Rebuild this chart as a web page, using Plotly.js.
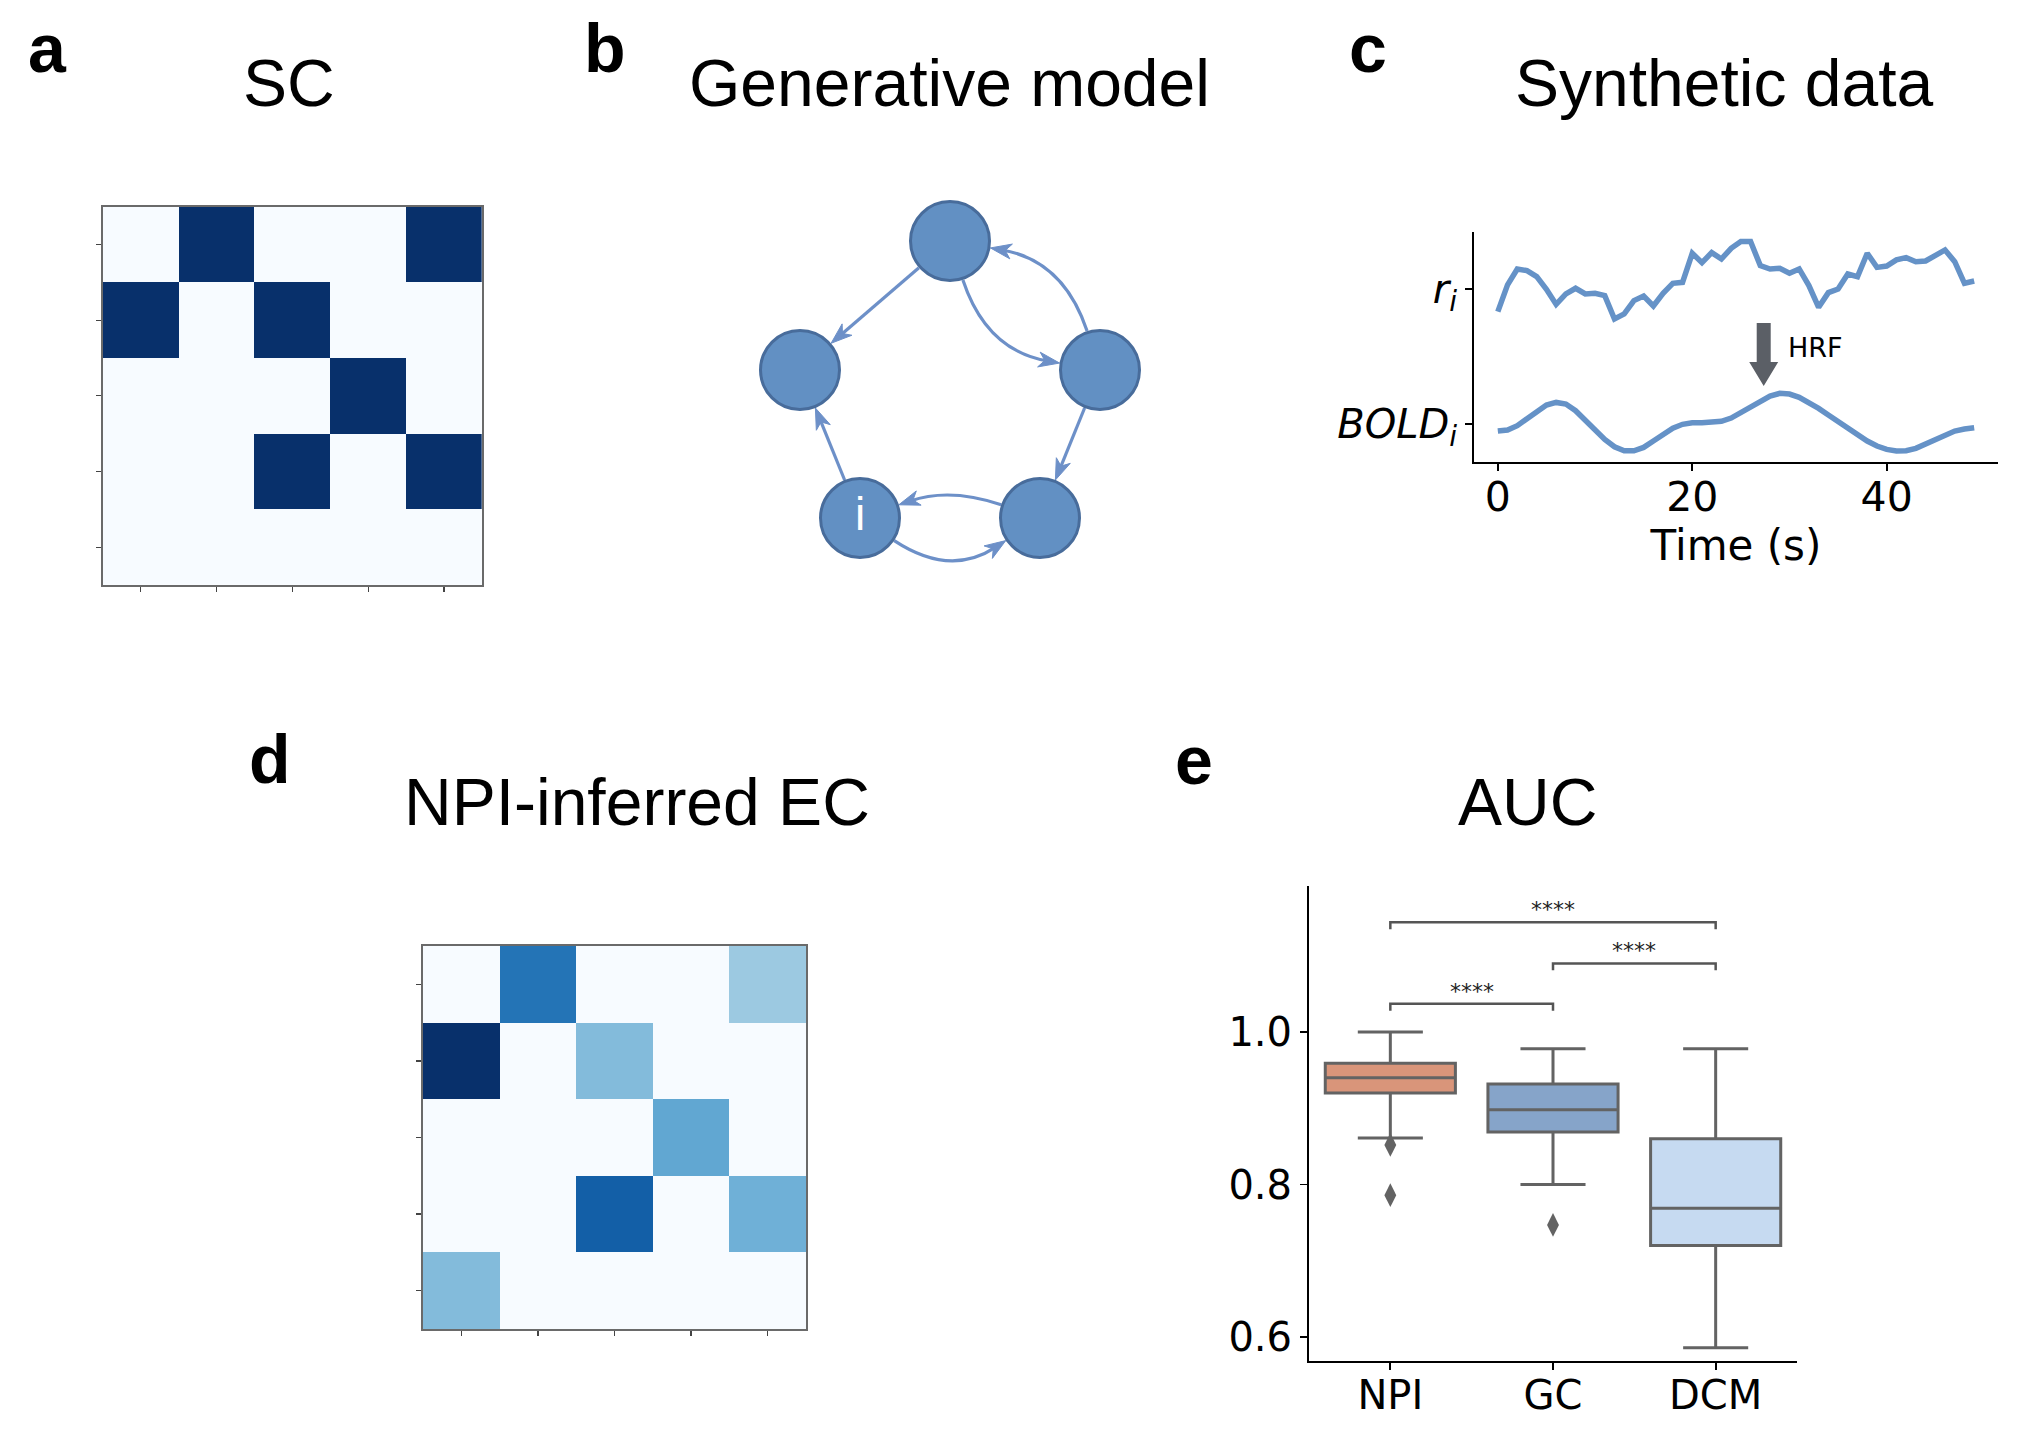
<!DOCTYPE html>
<html><head><meta charset="utf-8">
<script src="https://cdn.plot.ly/plotly-3.0.1.min.js"></script>
<style>html,body{margin:0;padding:0;background:#fff}</style>
</head><body><div id="chart" style="width:2035px;height:1450px"></div>
<script>
// ================= DATA =================
// Panel a: structural connectivity (binary)
const scMatrix = [
  [0, 1, 0, 0, 1],
  [1, 0, 1, 0, 0],
  [0, 0, 0, 1, 0],
  [0, 0, 1, 0, 1],
  [0, 0, 0, 0, 0]
];
// Panel d: NPI-inferred effective connectivity (normalised)
const ecMatrix = [
  [0,    0.74, 0,    0,    0.38],
  [1.00, 0,    0.44, 0,    0   ],
  [0,    0,    0,    0.53, 0   ],
  [0,    0,    0.82, 0,    0.49],
  [0.44, 0,    0,    0,    0   ]
];
const matrixIndex = [0, 1, 2, 3, 4];

// Panel b: generative model graph
const nodeX = [0, -1.5, 1.5, -0.9, 0.9];
const nodeY = [2.77, 1.48, 1.48, 0, 0];
const nodeLabels = ['', '', '', 'i', ''];
const edgeFrom = [0, 0, 2, 2, 4, 3, 3];
const edgeTo   = [1, 2, 0, 4, 3, 4, 1];
const edgeBend = [0, 0.3, 0.3, 0, 0.17, 0.33, 0];

// Panel c: synthetic data
const timeSec = [0,1,2,3,4,5,6,7,8,9,10,11,12,13,14,15,16,17,18,19,20,21,22,23,24,
  25,26,27,28,29,30,31,32,33,34,35,36,37,38,39,40,41,42,43,44,45,46,47,48,49];
const rSignal = [0.832,1.030,1.148,1.136,1.091,0.998,0.886,0.963,1.005,0.963,
  0.968,0.951,0.778,0.815,0.914,0.948,0.874,0.968,1.042,1.049,
  1.264,1.195,1.269,1.222,1.301,1.351,1.351,1.173,1.148,1.153,
  1.116,1.148,1.025,0.864,0.973,1.000,1.111,1.091,1.264,1.160,
  1.170,1.215,1.232,1.202,1.207,1.252,1.289,1.202,1.042,1.059];
const boldSignal = [-0.052,-0.044,-0.012,0.042,0.096,0.141,0.160,0.148,0.099,0.030,
  -0.044,-0.114,-0.168,-0.198,-0.198,-0.173,-0.126,-0.074,-0.030,-0.002,
  0.010,0.010,0.010,0.020,0.044,0.084,0.128,0.173,0.207,0.227,
  0.222,0.198,0.160,0.116,0.067,0.017,-0.032,-0.081,-0.126,-0.163,
  -0.188,-0.200,-0.198,-0.180,-0.148,-0.111,-0.077,-0.052,-0.037,-0.027];
const signalTickVals = [0, 1];
const signalTickText = ['<i>BOLD</i><sub><i>i</i></sub>', '<i>r</i><sub><i>i</i></sub>'];
const timeTicks = [0, 20, 40];

// Panel e: AUC box plots
const methods = ['NPI', 'GC', 'DCM'];
const aucLowerFence = [0.861, 0.800, 0.586];
const aucQ1         = [0.920, 0.869, 0.720];
const aucMedian     = [0.940, 0.898, 0.769];
const aucQ3         = [0.959, 0.932, 0.860];
const aucUpperFence = [1.000, 0.978, 0.978];
const outlierMethod = ['NPI', 'NPI', 'GC'];
const outlierAUC    = [0.852, 0.786, 0.747];
const compA = [0, 1, 0];
const compB = [1, 2, 2];
const compHeight = [1.037, 1.090, 1.144];
const compLabel = ['****', '****', '****'];
const aucTicks = [0.6, 0.8, 1.0];
const aucTickText = ['0.6', '0.8', '1.0'];

// ================= LAYOUT HELPERS =================
const W = 2035, H = 1450;
const dx = (a, b) => [a / W, b / W];
const dy = (top, bottom) => [1 - bottom / H, 1 - top / H];
const px = x => x / W;
const py = y => 1 - y / H;

const blues = [[0,'#f7fbff'],[0.125,'#deebf7'],[0.25,'#c6dbef'],[0.375,'#9ecae1'],
  [0.5,'#6baed6'],[0.625,'#4292c6'],[0.75,'#2171b5'],[0.875,'#08519c'],[1,'#08306b']];

const TITLE_FONT = 'Liberation Sans, Arial, Helvetica, sans-serif';
const AX_FONT = 'DejaVu Sans, Verdana, sans-serif';
const EDGE_COLOR = '#6d90c8';
const NODE_FILL = '#6290c3';
const NODE_LINE = '#486c9b';
const SIG_COLOR = '#6592c7';
const BOX_LINE = '#636363';

const traces = [];
const shapes = [];
const annotations = [];

// ---- Panel a & d heatmaps ----
function heat(z, xa, ya) {
  traces.push({type: 'heatmap', z: z, x: matrixIndex, y: matrixIndex,
    colorscale: blues, zmin: 0, zmax: 1, showscale: false, hoverinfo: 'skip',
    xaxis: xa, yaxis: ya});
}
heat(scMatrix, 'x', 'y');
heat(ecMatrix, 'x4', 'y4');

function heatAxis(domain) {
  return {domain: domain, range: [-0.5, 4.5], tickvals: matrixIndex, showticklabels: false,
    ticks: 'outside', ticklen: 5, tickwidth: 1.2, tickcolor: '#444',
    showline: true, mirror: true, linecolor: '#6a6a6a', linewidth: 1.6,
    showgrid: false, zeroline: false, fixedrange: true};
}

// ---- Panel b graph ----
const R = 0.41;
function unit(vx, vy) { const l = Math.hypot(vx, vy); return [vx / l, vy / l]; }
for (let k = 0; k < edgeFrom.length; k++) {
  const a = edgeFrom[k], b = edgeTo[k];
  const ax = nodeX[a], ay = nodeY[a], bx = nodeX[b], by = nodeY[b];
  const ddx = bx - ax, ddy = by - ay;
  const cx = (ax + bx) / 2 + edgeBend[k] * ddy;
  const cy = (ay + by) / 2 - edgeBend[k] * ddx;
  const [u0x, u0y] = unit(cx - ax, cy - ay);
  const [u1x, u1y] = unit(cx - bx, cy - by);
  const sx = ax + R * u0x, sy = ay + R * u0y;
  const ex = bx + R * u1x, ey = by + R * u1y;
  const tx = -u1x, ty = -u1y;
  const L = 0.21, Wd = 0.075, notch = 0.15;
  const backX = ex - L * tx, backY = ey - L * ty;
  const nx = -ty, ny = tx;
  const lex = ex - 0.12 * tx, ley = ey - 0.12 * ty;
  const path = edgeBend[k] === 0
    ? `M${sx},${sy} L${lex},${ley}`
    : `M${sx},${sy} Q${cx},${cy} ${lex},${ley}`;
  shapes.push({type: 'path', xref: 'x2', yref: 'y2', layer: 'below', path: path,
    line: {color: EDGE_COLOR, width: 3.2}, fillcolor: 'rgba(0,0,0,0)'});
  shapes.push({type: 'path', xref: 'x2', yref: 'y2', layer: 'below',
    path: `M${ex},${ey} L${backX + Wd * nx},${backY + Wd * ny} L${ex - notch * tx},${ey - notch * ty} L${backX - Wd * nx},${backY - Wd * ny} Z`,
    line: {color: EDGE_COLOR, width: 1}, fillcolor: EDGE_COLOR});
}
traces.push({type: 'scatter', mode: 'markers', x: nodeX, y: nodeY,
  marker: {size: 79, color: NODE_FILL, line: {color: NODE_LINE, width: 3}},
  hoverinfo: 'skip', showlegend: false, xaxis: 'x2', yaxis: 'y2', cliponaxis: false});
const labelled = nodeLabels.map((t, i) => i).filter(i => nodeLabels[i] !== '');
traces.push({type: 'scatter', mode: 'text',
  x: labelled.map(i => nodeX[i]), y: labelled.map(i => nodeY[i]), text: labelled.map(i => nodeLabels[i]),
  textposition: 'middle center', textfont: {family: TITLE_FONT, size: 46, color: '#ffffff'},
  hoverinfo: 'skip', showlegend: false, xaxis: 'x2', yaxis: 'y2', cliponaxis: false});

// ---- Panel c synthetic data ----
traces.push({type: 'scatter', mode: 'lines', x: timeSec, y: rSignal,
  line: {color: SIG_COLOR, width: 5.5}, xaxis: 'x3', yaxis: 'y3', hoverinfo: 'skip', showlegend: false});
traces.push({type: 'scatter', mode: 'lines', x: timeSec, y: boldSignal,
  line: {color: SIG_COLOR, width: 5.5}, xaxis: 'x3', yaxis: 'y3', hoverinfo: 'skip', showlegend: false});
// HRF block arrow
(function () {
  const c = 27.35, sw = 0.72, hw = 1.49, top = 0.748, hs = 0.459, tip = 0.281;
  shapes.push({type: 'path', xref: 'x3', yref: 'y3',
    path: `M${c - sw},${top} L${c + sw},${top} L${c + sw},${hs} L${c + hw},${hs} L${c},${tip} L${c - hw},${hs} L${c - sw},${hs} Z`,
    fillcolor: '#5b5f66', line: {width: 0}});
  annotations.push({xref: 'x3', yref: 'y3', x: 29.6, y: 0.565, text: 'HRF', showarrow: false,
    xanchor: 'left', yanchor: 'middle', font: {family: AX_FONT, size: 27, color: '#000'}});
})();

// ---- Panel e box plots ----
const boxFill = ['#d9957a', '#86a4c9', '#c6daf1'];
methods.forEach((m, i) => {
  traces.push({type: 'box', x: [m], q1: [aucQ1[i]], median: [aucMedian[i]], q3: [aucQ3[i]],
    lowerfence: [aucLowerFence[i]], upperfence: [aucUpperFence[i]],
    fillcolor: boxFill[i], line: {color: BOX_LINE, width: 3}, whiskerwidth: 0.5, width: 0.8,
    boxpoints: false, xaxis: 'x5', yaxis: 'y5', hoverinfo: 'skip', showlegend: false});
});
traces.push({type: 'scatter', mode: 'markers', x: outlierMethod, y: outlierAUC,
  marker: {symbol: 'diamond-tall', size: 17, color: BOX_LINE},
  xaxis: 'x5', yaxis: 'y5', hoverinfo: 'skip', showlegend: false});
for (let k = 0; k < compA.length; k++) {
  const h = compHeight[k], t = 0.009;
  traces.push({type: 'scatter', mode: 'lines',
    x: [methods[compA[k]], methods[compA[k]], methods[compB[k]], methods[compB[k]]],
    y: [h - t, h, h, h - t], line: {color: '#555', width: 2.5},
    xaxis: 'x5', yaxis: 'y5', hoverinfo: 'skip', showlegend: false});
  annotations.push({xref: 'x5', yref: 'y5', x: (compA[k] + compB[k]) / 2, y: h, text: compLabel[k],
    showarrow: false, yanchor: 'bottom', yshift: -2,
    font: {family: AX_FONT, size: 22, color: '#222'}});
}

// ---- Titles and panel letters ----
function title(text, cx, cy) {
  annotations.push({xref: 'paper', yref: 'paper', x: px(cx), y: py(cy), text: text,
    showarrow: false, xanchor: 'center', yanchor: 'middle',
    font: {family: TITLE_FONT, size: 66, color: '#000'}});
}
function letter(text, lx, cy) {
  annotations.push({xref: 'paper', yref: 'paper', x: px(lx), y: py(cy), text: '<b>' + text + '</b>',
    showarrow: false, xanchor: 'left', yanchor: 'middle',
    font: {family: TITLE_FONT, size: 68, color: '#000'}});
}
title('SC', 289, 83);
title('Generative model', 949, 83);
title('Synthetic data', 1724, 83);
title('NPI-inferred EC', 637, 802);
title('AUC', 1527, 802);
letter('a', 26, 48);
letter('b', 582, 48);
letter('c', 1347, 48);
letter('d', 247, 759);
letter('e', 1173, 760);

const plainAxis = {showgrid: false, zeroline: false, fixedrange: true};

const layout = {
  width: W, height: H, margin: {l: 0, r: 0, t: 0, b: 0},
  paper_bgcolor: '#fff', plot_bgcolor: '#fff', showlegend: false, boxmode: 'overlay',
  xaxis: Object.assign(heatAxis(dx(102.7, 482)), {anchor: 'y'}),
  yaxis: Object.assign(heatAxis(dy(206.7, 585)), {range: [4.5, -0.5], anchor: 'x'}),
  xaxis4: Object.assign(heatAxis(dx(423, 806)), {anchor: 'y4'}),
  yaxis4: Object.assign(heatAxis(dy(946, 1329)), {range: [4.5, -0.5], anchor: 'x4'}),
  xaxis2: Object.assign({}, plainAxis, {domain: dx(700, 1200), range: [-2.5, 2.5], visible: false, anchor: 'y2'}),
  yaxis2: Object.assign({}, plainAxis, {domain: dy(180, 580), range: [-0.62, 3.38], visible: false, anchor: 'x2'}),
  xaxis3: Object.assign({}, plainAxis, {domain: dx(1474, 1998), range: [-2.45, 51.45], anchor: 'y3',
    tickvals: timeTicks, ticks: 'outside', ticklen: 7, tickwidth: 1.8, tickcolor: '#000',
    showline: true, linecolor: '#000', linewidth: 2, ticklabelstandoff: -9,
    tickfont: {family: AX_FONT, size: 41, color: '#000'},
    title: {text: 'Time (s)', font: {family: AX_FONT, size: 42, color: '#000'}, standoff: 8}}),
  yaxis3: Object.assign({}, plainAxis, {domain: dy(231.7, 462), range: [-0.281, 1.424], anchor: 'x3',
    tickvals: signalTickVals, ticktext: signalTickText, ticks: 'outside', ticklen: 7, tickwidth: 1.8,
    tickcolor: '#000', showline: true, linecolor: '#000', linewidth: 2,
    tickfont: {family: AX_FONT, size: 40, color: '#000'}}),
  xaxis5: Object.assign({}, plainAxis, {domain: dx(1309, 1797), range: [-0.5, 2.5], anchor: 'y5',
    type: 'category', categoryorder: 'array', categoryarray: methods,
    ticks: 'outside', ticklen: 7, tickwidth: 1.8, tickcolor: '#000', ticklabelstandoff: -9,
    showline: true, linecolor: '#000', linewidth: 2,
    tickfont: {family: AX_FONT, size: 40, color: '#000'}}),
  yaxis5: Object.assign({}, plainAxis, {domain: dy(886, 1361), range: [0.5685, 1.1916], anchor: 'x5',
    tickvals: aucTicks, ticktext: aucTickText, ticks: 'outside', ticklen: 7, tickwidth: 1.8,
    tickcolor: '#000', showline: true, linecolor: '#000', linewidth: 2,
    tickfont: {family: AX_FONT, size: 40, color: '#000'}}),
  shapes: shapes,
  annotations: annotations
};

Plotly.newPlot('chart', traces, layout, {staticPlot: true, displayModeBar: false});
</script>
</body></html>
